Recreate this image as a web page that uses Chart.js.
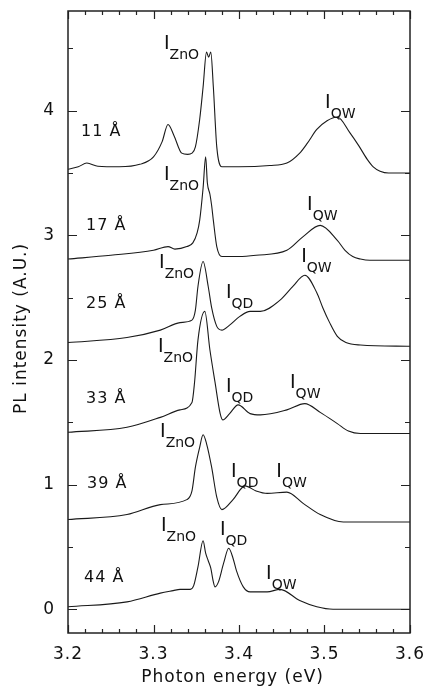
<!DOCTYPE html>
<html>
<head>
<meta charset="utf-8">
<script src="https://cdn.jsdelivr.net/npm/chart.js@4.4.1/dist/chart.umd.min.js"></script>
<style>
html, body { margin: 0; padding: 0; background: #fff; }
#wrap { width: 427px; height: 691px; position: relative; }
</style>
</head>
<body>
<div id="wrap"><canvas id="plChart"></canvas></div>
<script>
// Achsen
var xTicks = [3.2, 3.3, 3.4, 3.5, 3.6];
var yTicks = [0, 1, 2, 3, 4];

// Spektren (Photonenenergie in eV, PL-Intensitaet verschoben)
var e11 = [3.200, 3.212, 3.222, 3.235, 3.260, 3.284, 3.300, 3.310, 3.317, 3.324, 3.333, 3.340, 3.345, 3.349, 3.354, 3.358, 3.362, 3.3645, 3.367, 3.370, 3.374, 3.380, 3.400, 3.436, 3.456, 3.471, 3.480, 3.491, 3.503, 3.515, 3.530, 3.540, 3.550, 3.557, 3.565, 3.575, 3.600];
var pl11 = [3.53, 3.55, 3.58, 3.555, 3.55, 3.57, 3.63, 3.75, 3.89, 3.80, 3.66, 3.65, 3.66, 3.71, 3.93, 4.19, 4.47, 4.43, 4.47, 4.19, 3.71, 3.55, 3.55, 3.56, 3.58, 3.66, 3.74, 3.85, 3.92, 3.95, 3.82, 3.72, 3.61, 3.55, 3.515, 3.50, 3.50];

var e17 = [3.200, 3.250, 3.300, 3.317, 3.325, 3.339, 3.346, 3.351, 3.354, 3.358, 3.361, 3.363, 3.366, 3.368, 3.370, 3.374, 3.380, 3.400, 3.420, 3.456, 3.475, 3.495, 3.515, 3.524, 3.533, 3.542, 3.553, 3.600];
var pl17 = [2.81, 2.84, 2.88, 2.91, 2.89, 2.91, 2.94, 3.02, 3.12, 3.38, 3.63, 3.42, 3.33, 3.24, 3.12, 2.91, 2.83, 2.83, 2.84, 2.88, 2.99, 3.08, 2.96, 2.88, 2.83, 2.81, 2.80, 2.80];

var e25 = [3.200, 3.269, 3.308, 3.331, 3.345, 3.349, 3.352, 3.358, 3.364, 3.368, 3.374, 3.380, 3.389, 3.401, 3.413, 3.425, 3.448, 3.463, 3.477, 3.491, 3.498, 3.506, 3.515, 3.525, 3.542, 3.600];
var pl25 = [2.14, 2.18, 2.24, 2.30, 2.32, 2.40, 2.59, 2.79, 2.59, 2.42, 2.27, 2.24, 2.28, 2.35, 2.39, 2.39, 2.48, 2.59, 2.68, 2.54, 2.42, 2.30, 2.19, 2.14, 2.12, 2.11];

var e33 = [3.200, 3.269, 3.308, 3.331, 3.345, 3.348, 3.352, 3.360, 3.366, 3.372, 3.378, 3.381, 3.389, 3.399, 3.413, 3.425, 3.456, 3.477, 3.495, 3.515, 3.528, 3.542, 3.600];
var pl33 = [1.42, 1.46, 1.54, 1.60, 1.66, 1.82, 2.16, 2.39, 2.08, 1.82, 1.57, 1.52, 1.57, 1.64, 1.57, 1.56, 1.60, 1.65, 1.58, 1.49, 1.43, 1.41, 1.41];

var e39 = [3.200, 3.269, 3.308, 3.339, 3.345, 3.349, 3.354, 3.358, 3.362, 3.368, 3.374, 3.380, 3.393, 3.407, 3.420, 3.433, 3.456, 3.475, 3.495, 3.522, 3.600];
var pl39 = [0.72, 0.76, 0.84, 0.88, 0.95, 1.14, 1.30, 1.40, 1.33, 1.14, 0.90, 0.80, 0.88, 0.99, 0.95, 0.93, 0.94, 0.85, 0.76, 0.70, 0.70];

var e44 = [3.200, 3.269, 3.308, 3.323, 3.331, 3.343, 3.347, 3.352, 3.358, 3.361, 3.364, 3.367, 3.370, 3.372, 3.376, 3.382, 3.388, 3.393, 3.397, 3.405, 3.413, 3.433, 3.448, 3.471, 3.491, 3.510, 3.600];
var pl44 = [0.02, 0.06, 0.13, 0.15, 0.16, 0.16, 0.19, 0.34, 0.55, 0.45, 0.39, 0.33, 0.22, 0.18, 0.22, 0.37, 0.49, 0.41, 0.31, 0.18, 0.14, 0.14, 0.16, 0.07, 0.02, 0.00, 0.00];

// Beschriftungen (Datenkoordinaten)
var probenLabels = [
    { text: '11 Å', x: 3.2164, y: 3.80 },
    { text: '17 Å', x: 3.2222, y: 3.044 },
    { text: '25 Å', x: 3.2222, y: 2.418 },
    { text: '33 Å', x: 3.2222, y: 1.655 },
    { text: '39 Å', x: 3.2234, y: 0.972 },
    { text: '44 Å', x: 3.2199, y: 0.217 }
];
var peakLabels = [
    { sub: 'ZnO', x: 3.3146, y: 4.498 }, { sub: 'ZnO', x: 3.3146, y: 3.446 },
    { sub: 'ZnO', x: 3.3088, y: 2.739 }, { sub: 'ZnO', x: 3.3076, y: 2.064 },
    { sub: 'ZnO', x: 3.3100, y: 1.38 }, { sub: 'ZnO', x: 3.3111, y: 0.627 },
    { sub: 'QD', x: 3.387, y: 2.498 }, { sub: 'QD', x: 3.387, y: 1.743 },
    { sub: 'QD', x: 3.393, y: 1.06 }, { sub: 'QD', x: 3.380, y: 0.594 },
    { sub: 'QW', x: 3.503, y: 4.024 }, { sub: 'QW', x: 3.482, y: 3.205 },
    { sub: 'QW', x: 3.475, y: 2.787 }, { sub: 'QW', x: 3.462, y: 1.775 },
    { sub: 'QW', x: 3.446, y: 1.06 }, { sub: 'QW', x: 3.434, y: 0.245 }
];

var FONT = 'DejaVu Sans';
var TEXT = '#111';

function punkte(e, pl) {
    return e.map(function(x, i) { return { x: x, y: pl[i] }; });
}

function kurve(label, e, pl) {
    return {
        label: label, data: punkte(e, pl),
        borderColor: '#1a1a1a', borderWidth: 1.1, pointRadius: 0,
        fill: false, cubicInterpolationMode: 'monotone'
    };
}

var abstandPlugin = {
    id: 'abstand',
    beforeDraw: function(chart) {
        if ('letterSpacing' in chart.ctx) chart.ctx.letterSpacing = '1px';
    }
};

var rahmenPlugin = {
    id: 'rahmen',
    afterDatasetsDraw: function(chart) {
        var ctx = chart.ctx, a = chart.chartArea;
        var xs = chart.scales.x, ys = chart.scales.y;
        ctx.save();
        ctx.strokeStyle = '#222';
        ctx.lineWidth = 1.5;
        ctx.strokeRect(a.left, a.top, a.right - a.left, a.bottom - a.top);

        ctx.lineWidth = 1.2;
        ctx.beginPath();
        // x: Haupt- und Nebenstriche nach innen
        for (var i = 0; i <= 20; i++) {
            var px = Math.round(xs.getPixelForValue(xTicks[0] + i * 0.02)) + 0.5;
            var len = i % 5 === 0 ? 8 : 4;
            ctx.moveTo(px, a.bottom); ctx.lineTo(px, a.bottom - len);
            ctx.moveTo(px, a.top); ctx.lineTo(px, a.top + len);
        }
        // y: ganze und halbe Einheiten
        for (var j = 0; j <= 9; j++) {
            var py = Math.round(ys.getPixelForValue(yTicks[0] + j * 0.5)) + 0.5;
            var l2 = j % 2 === 0 ? 9 : 5;
            ctx.moveTo(a.left, py); ctx.lineTo(a.left + l2, py);
            ctx.moveTo(a.right, py); ctx.lineTo(a.right - l2, py);
        }
        ctx.stroke();

        // Probenbeschriftung
        ctx.fillStyle = TEXT;
        ctx.textAlign = 'left';
        ctx.textBaseline = 'alphabetic';
        ctx.font = '16px "' + FONT + '"';
        probenLabels.forEach(function(p) {
            ctx.fillText(p.text, xs.getPixelForValue(p.x) - 1, ys.getPixelForValue(p.y));
        });

        // I mit Index
        if ('letterSpacing' in ctx) ctx.letterSpacing = '0px';
        peakLabels.forEach(function(p) {
            var x0 = xs.getPixelForValue(p.x) - 2;
            var y0 = ys.getPixelForValue(p.y);
            ctx.font = '19px "' + FONT + '"';
            ctx.fillText('I', x0, y0);
            var w = ctx.measureText('I').width;
            ctx.font = '14px "' + FONT + '"';
            ctx.fillText(p.sub, x0 + w, y0 + 10);
        });
        ctx.restore();
    }
};

var ctx = document.getElementById('plChart').getContext('2d');
var plChart = new Chart(ctx, {
    type: 'line',
    data: {
        datasets: [
            kurve('11 Å', e11, pl11),
            kurve('17 Å', e17, pl17),
            kurve('25 Å', e25, pl25),
            kurve('33 Å', e33, pl33),
            kurve('39 Å', e39, pl39),
            kurve('44 Å', e44, pl44)
        ]
    },
    options: {
        responsive: true, maintainAspectRatio: false, animation: false,
        devicePixelRatio: 1,
        layout: { padding: { top: 11, right: 17, left: 0, bottom: 0 } },
        plugins: { legend: { display: false }, tooltip: { enabled: false } },
        scales: {
            x: {
                type: 'linear', min: 3.2, max: 3.6,
                afterBuildTicks: function(s) { s.ticks = xTicks.map(function(v) { return { value: v }; }); },
                afterFit: function(s) { s.height = 58; s.paddingLeft = 0; s.paddingRight = 0; },
                grid: { display: false, drawTicks: false },
                border: { display: false },
                ticks: {
                    color: TEXT, padding: 11, maxRotation: 0, autoSkip: false,
                    font: { family: FONT, size: 17 },
                    callback: function(v) { return v.toFixed(1); }
                },
                title: {
                    display: true, text: 'Photon energy (eV)  ', color: TEXT,
                    font: { family: FONT, size: 17 }, padding: { top: 0, bottom: 3 }
                }
            },
            y: {
                type: 'linear', min: -0.19, max: 4.8,
                afterBuildTicks: function(s) { s.ticks = yTicks.map(function(v) { return { value: v }; }); },
                afterFit: function(s) { s.width = 68; s.paddingTop = 0; s.paddingBottom = 0; },
                grid: { display: false, drawTicks: false },
                border: { display: false },
                ticks: {
                    color: TEXT, padding: 13,
                    font: { family: FONT, size: 17 },
                    callback: function(v) { return String(v); }
                },
                title: {
                    display: true, text: 'PL intensity (A.U.)  ', color: TEXT,
                    font: { family: FONT, size: 17 }, padding: { top: 11, bottom: 0 }
                }
            }
        }
    },
    plugins: [abstandPlugin, rahmenPlugin]
});
</script>
</body>
</html>
